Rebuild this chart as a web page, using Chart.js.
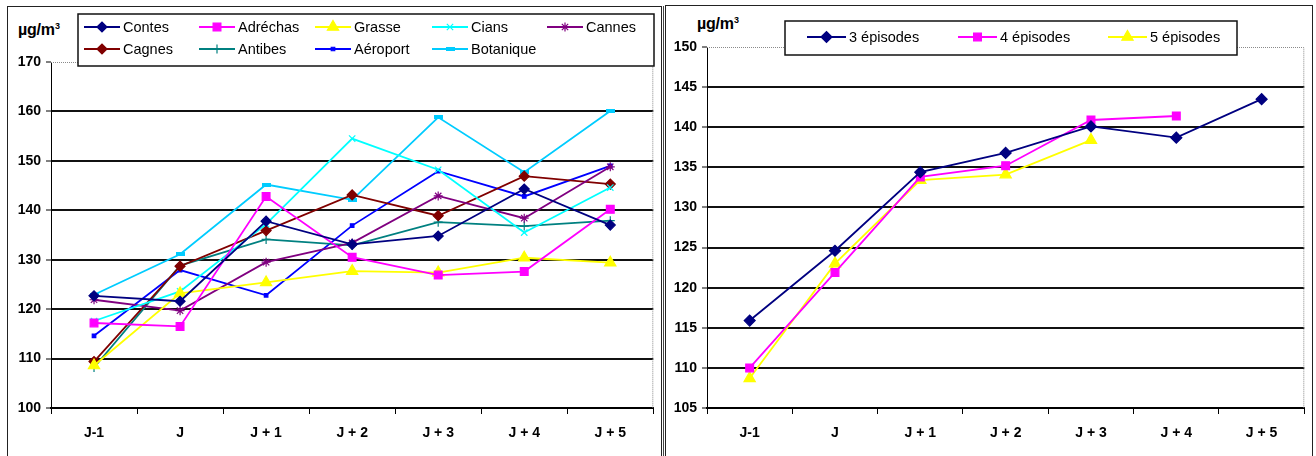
<!DOCTYPE html>
<html>
<head>
<meta charset="utf-8">
<script src="https://cdn.jsdelivr.net/npm/chart.js@4.4.1/dist/chart.umd.min.js"></script>
<style>
  body { margin: 0; width: 1316px; height: 456px; overflow: hidden; background: #fff; position: relative; font-family: 'Liberation Sans', Arial, sans-serif; }
  .frame { position: absolute; box-sizing: border-box; border: 1px solid #222; }
  .unit { position: absolute; font-weight: bold; font-size: 16px; color: #000; letter-spacing: -0.2px; }
  .unit sup { font-size: 9px; }
  canvas { position: absolute; }
</style>
</head>
<body>
<div class="frame" style="left:7px; top:6px; width:655px; height:470px;"></div>
<div style="position:absolute; left:663px; top:6px; width:1px; height:460px; background:#444;"></div>
<div class="frame" style="left:665px; top:5px; width:648px; height:470px;"></div>
<div class="unit" style="left:18px; top:21px;">µg/m<sup>3</sup></div>
<div class="unit" style="left:697px; top:15px;">µg/m<sup>3</sup></div>
<canvas id="gauche" width="653" height="449" style="left:8px; top:7px;"></canvas>
<canvas id="droite" width="646" height="450" style="left:666px; top:6px;"></canvas>
<script>
// catégories (jours autour de l'épisode)
const jours = ['J-1', 'J', 'J + 1', 'J + 2', 'J + 3', 'J + 4', 'J + 5'];

// graphique de gauche : stations
const contes    = [122.7, 121.6, 137.8, 133.1, 134.8, 144.3, 137.0];
const adrechas  = [117.2, 116.5, 142.8, 130.5, 126.9, 127.6, 140.2];
const grasse    = [108.6, 123.2, 125.4, 127.7, 127.4, 130.4, 129.4];
const cians     = [117.6, 123.6, 137.2, 154.5, 148.2, 135.5, 144.6];
const cannes    = [121.9, 119.7, 129.5, 133.4, 142.9, 138.4, 148.8];
const cagnes    = [109.4, 128.7, 135.9, 143.1, 138.9, 146.9, 145.3];
const antibes   = [108.2, 128.8, 134.1, 132.9, 137.6, 136.8, 137.9];
const aeroport  = [114.6, 127.9, 122.8, 136.9, 147.9, 142.8, 149.0];
const botanique = [122.9, 131.1, 145.2, 142.1, 158.8, 147.7, 160.1];

// graphique de droite : nombre d'épisodes
const episodes3 = [115.9, 124.6, 134.4, 136.8, 140.1, 138.7, 143.5];
const episodes4 = [110.0, 121.9, 133.8, 135.2, 140.9, 141.4, null];
const episodes5 = [108.7, 123.0, 133.4, 134.1, 138.4, null, null];

const police = "'Liberation Sans', Arial, sans-serif";

// petit tiret pour le marqueur "Botanique"
const tiret = document.createElement('canvas');
tiret.width = 9;
tiret.height = 4;
const tctx = tiret.getContext('2d');
tctx.fillStyle = '#00CCFF';
tctx.fillRect(0, 0, 9, 4);

function serie(label, data, couleur, style, rayon) {
    return {
        label: label,
        data: data,
        borderColor: couleur,
        backgroundColor: couleur,
        pointBackgroundColor: couleur,
        pointBorderColor: couleur,
        pointStyle: style,
        pointRadius: rayon,
        pointBorderWidth: 1.2,
        borderWidth: 1.8,
        tension: 0,
        spanGaps: false
    };
}

// bordure pointillée en haut et à droite de la zone de tracé
const cadrePointille = {
    id: 'cadrePointille',
    beforeDatasetsDraw(chart) {
        const a = chart.chartArea;
        const ctx = chart.ctx;
        ctx.save();
        ctx.strokeStyle = '#8a8a8a';
        ctx.lineWidth = 1;
        ctx.setLineDash([1, 1]);
        ctx.beginPath();
        ctx.moveTo(a.left, a.top + 0.5);
        ctx.lineTo(a.right - 0.5, a.top + 0.5);
        ctx.lineTo(a.right - 0.5, a.bottom);
        ctx.stroke();
        ctx.restore();
    }
};

// légende encadrée, en colonnes comme dans Excel
const legendeCadre = {
    id: 'legendeCadre',
    afterDraw(chart, args, opts) {
        const ctx = chart.ctx;
        const b = opts.boite;
        ctx.save();
        ctx.fillStyle = '#fff';
        ctx.fillRect(b.x, b.y, b.w, b.h);
        ctx.strokeStyle = '#111';
        ctx.lineWidth = 1.5;
        ctx.strokeRect(b.x, b.y, b.w, b.h);
        ctx.font = opts.taille + 'px ' + police;
        ctx.textBaseline = 'middle';
        chart.data.datasets.forEach((ds, i) => {
            const col = i % opts.colonnes.length;
            const lig = Math.floor(i / opts.colonnes.length);
            const x = opts.colonnes[col];
            const y = opts.lignes[lig];
            ctx.strokeStyle = ds.borderColor;
            ctx.lineWidth = ds.borderWidth;
            ctx.beginPath();
            ctx.moveTo(x, y);
            ctx.lineTo(x + opts.trait, y);
            ctx.stroke();
            ctx.fillStyle = ds.pointBackgroundColor;
            ctx.strokeStyle = ds.pointBorderColor;
            ctx.lineWidth = ds.pointBorderWidth;
            Chart.helpers.drawPoint(ctx, {
                pointStyle: ds.pointStyle,
                radius: ds.pointRadius,
                rotation: 0,
                borderWidth: ds.pointBorderWidth
            }, x + opts.trait / 2, y);
            ctx.fillStyle = '#000';
            ctx.fillText(ds.label, x + opts.trait + 3, y + 1);
        });
        ctx.restore();
    }
};

function options(min, max, pas, largeurY, haut, droite, legende) {
    return {
        responsive: false,
        animation: false,
        layout: { padding: { top: haut, right: droite, left: 0, bottom: 0 } },
        plugins: {
            legend: { display: false },
            tooltip: { enabled: false },
            legendeCadre: legende
        },
        scales: {
            x: {
                offset: true,
                grid: {
                    offset: true,
                    drawOnChartArea: false,
                    drawTicks: true,
                    tickLength: 6,
                    tickColor: '#000',
                    tickWidth: 1
                },
                border: { color: '#000', width: 2 },
                ticks: {
                    color: '#000',
                    font: { family: police, size: 14, weight: 'bold' },
                    padding: 11,
                    maxRotation: 0,
                    autoSkip: false
                },
                afterFit(s) { s.height = 48; }
            },
            y: {
                min: min,
                max: max,
                ticks: {
                    stepSize: pas,
                    color: '#000',
                    font: { family: police, size: 14, weight: 'bold' },
                    padding: 5
                },
                grid: {
                    color: c => (c.tick && c.tick.value === max) ? 'rgba(0,0,0,0)' : '#111',
                    lineWidth: 2,
                    tickColor: '#000',
                    tickWidth: 1,
                    tickLength: 5
                },
                border: { color: '#000', width: 1 },
                afterFit(s) { s.width = largeurY; }
            }
        }
    };
}

new Chart(document.getElementById('gauche'), {
    type: 'line',
    data: {
        labels: jours,
        datasets: [
            serie('Contes', contes, '#000080', 'rectRot', 5),
            serie('Adréchas', adrechas, '#FF00FF', 'rect', 5.5),
            serie('Grasse', grasse, '#FFFF00', 'triangle', 6.5),
            serie('Cians', cians, '#00FFFF', 'crossRot', 4.5),
            serie('Cannes', cannes, '#800080', 'star', 4.5),
            serie('Cagnes', cagnes, '#800000', 'rectRot', 5),
            serie('Antibes', antibes, '#008080', 'cross', 4.5),
            serie('Aéroport', aeroport, '#0000FF', 'rect', 2.5),
            serie('Botanique', botanique, '#00CCFF', tiret, 4)
        ]
    },
    options: options(100, 170, 10, 43, 55, 5, {
        boite: { x: 70, y: 7, w: 576, h: 52 },
        colonnes: [76, 191, 307, 424, 539],
        lignes: [20, 42],
        trait: 36,
        taille: 14.5
    }),
    plugins: [cadrePointille, legendeCadre]
});

new Chart(document.getElementById('droite'), {
    type: 'line',
    data: {
        labels: jours,
        datasets: [
            serie('3 épisodes', episodes3, '#000080', 'rectRot', 5.5),
            serie('4 épisodes', episodes4, '#FF00FF', 'rect', 5.5),
            serie('5 épisodes', episodes5, '#FFFF00', 'triangle', 6.5)
        ]
    },
    options: options(105, 150, 5, 41, 41, 4, {
        boite: { x: 119, y: 15, w: 452, h: 34 },
        colonnes: [141, 292, 442],
        lignes: [31],
        trait: 39,
        taille: 14.5
    }),
    plugins: [cadrePointille, legendeCadre]
});
</script>
</body>
</html>
